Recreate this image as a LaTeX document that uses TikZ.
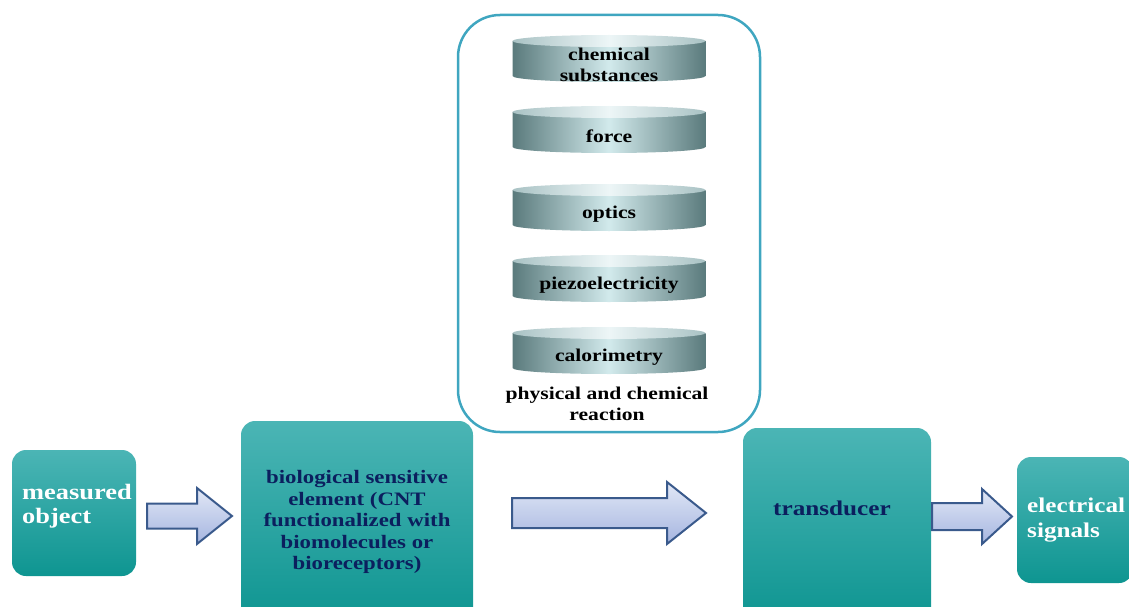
\documentclass[tikz,border=0pt]{standalone}
\usepackage{fontspec}
\setmainfont{Liberation Serif}[FakeStretch=1.2]
\usetikzlibrary{calc}

\definecolor{boxtop}{HTML}{4BB5B5}
\definecolor{boxbot}{HTML}{0E9591}
\definecolor{panelline}{HTML}{3FA6C0}
\definecolor{diskedge}{HTML}{5A7A7C}
\definecolor{diskmid}{HTML}{D2EAEC}
\definecolor{lidedge}{HTML}{A9C2C4}
\definecolor{lidmid}{HTML}{EDF6F7}
\definecolor{arrowtop}{HTML}{E2E8F6}
\definecolor{arrowbot}{HTML}{A5B5E0}
\definecolor{arrowline}{HTML}{3A5A8C}
\definecolor{navy}{HTML}{0B1F5E}

\tikzset{
  block/.style={rounded corners=14pt, top color=boxtop, bottom color=boxbot, draw=none},
  panel/.style={rounded corners=42pt, draw=panelline, line width=2.5pt},
  blockarrow/.style={draw=arrowline, line width=2pt, top color=arrowtop, bottom color=arrowbot, line join=miter},
  disk/.style={left color=diskedge, right color=diskedge, middle color=diskmid},
  lid/.style={left color=lidedge, right color=lidedge, middle color=lidmid},
  disktext/.style={font=\fontsize{18}{21}\selectfont\bfseries, align=center, inner sep=0pt},
  whitetext/.style={text=white, align=left, anchor=west, inner sep=0pt, font=\fontsize{22}{24}\selectfont\bfseries},
  navytext/.style={text=navy, align=center, inner sep=0pt, font=\fontsize{19}{21.5}\selectfont\bfseries}
}

% tail, tip, half shaft, half head, head length
\newcommand{\blockarrow}[5]{%
  \path[blockarrow] let \p1=(#1), \p2=(#2) in
    (\x1,\y1+#3pt) -- (\x2-#5pt,\y1+#3pt) -- (\x2-#5pt,\y1+#4pt) -- (\x2,\y1)
    -- (\x2-#5pt,\y1-#4pt) -- (\x2-#5pt,\y1-#3pt) -- (\x1,\y1-#3pt) -- cycle;}

\begin{document}
\begin{tikzpicture}[x=1pt,y=-1pt]
\useasboundingbox (0,0) rectangle (1129,607);
\clip (0,0) rectangle (1129,607);

% reaction panel
\node[panel, minimum width=302pt, minimum height=417pt] (react) at (609,223.5) {};
\foreach \t/\n/\txt in {35/chem/{chemical\\substances}, 106/force/force, 184/optics/optics, 255/piezo/piezoelectricity, 327/calor/calorimetry}{
  \path[disk] (512.5,\t+6) -- (512.5,\t+41) arc[start angle=180, end angle=360, x radius=96.5pt, y radius=6pt] -- (705.5,\t+6) -- cycle;
  \path[lid] (609,\t+6) ellipse[x radius=96.5pt, y radius=6pt];
  \node[disktext] (\n) at (609,\t+30) {\txt};
}
\node[disktext] (reacttext) at (607,404) {physical and chemical\\reaction};

% blocks
\node[block, minimum width=124pt, minimum height=126pt] (obj) at (74,513) {};
\node[block, minimum width=232pt, minimum height=201pt] (bio) at (357,521.5) {};
\node[block, minimum width=188pt, minimum height=194pt] (trans) at (837,525) {};
\node[block, minimum width=116pt, minimum height=126pt] (elec) at (1075,520) {};

\node[whitetext] (objtext) at (22,506) {measured\\object};
\node[navytext] (biotext) at (357,522) {biological sensitive\\element (CNT\\functionalized with\\biomolecules or\\bioreceptors)};
\node[navytext, font=\fontsize{21}{24}\selectfont\bfseries] (transtext) at (832,508) {transducer};
\node[whitetext, font=\fontsize{21}{25}\selectfont\bfseries] (electext) at (1027,520) {electrical\\signals};

% arrows
\coordinate (a1s) at (147,516);   \coordinate (a1e) at (232,516);
\coordinate (a2s) at (512,513);   \coordinate (a2e) at (706,513);
\coordinate (a3s) at (932,516.5); \coordinate (a3e) at (1012,516.5);
\blockarrow{a1s}{a1e}{12.5}{28}{35}
\blockarrow{a2s}{a2e}{15}{31}{39}
\blockarrow{a3s}{a3e}{13.5}{27.5}{30}
\end{tikzpicture}
\end{document}
